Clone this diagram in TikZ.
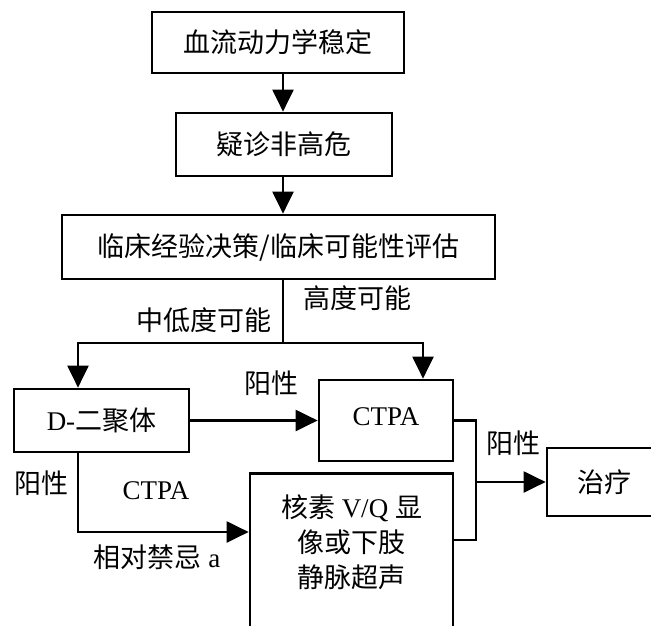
\documentclass[tikz,border=0pt]{standalone}
\usepackage{fontspec}
\setmainfont{Liberation Serif}
\newfontfamily\cjk{Noto Sans CJK SC}
\usetikzlibrary{arrows.meta}

\begin{document}
\begin{tikzpicture}[x=1pt,y=-1pt,
    every node/.style={font=\fontsize{27}{35}\selectfont},
    box/.style={draw,line width=2.7pt,inner sep=0pt},
    link/.style={line width=2.2pt},
    arr/.style={link,-{Triangle[width=21pt,length=22pt]}},
    tag/.style={inner sep=0pt}]
      \useasboundingbox (0,0) rectangle (651,626);
      \clip (0,0) rectangle (651,626);
      % main column
      \draw (278,42.5) node[box,minimum width=252,minimum height=61] (stable) {\cjk 血流动力学稳定};
      \draw (284,144.5) node[box,minimum width=216,minimum height=63] (suspect) {\cjk 疑诊非高危};
      \draw (278.5,247) node[box,minimum width=433,minimum height=64] (assess) {\cjk 临床经验决策/临床可能性评估};
      \coordinate (spine) at (283,0);
      \coordinate (fork) at (283,343);
      \coordinate (lowdrop) at (78,343);
      \coordinate (highdrop) at (423,343);
      % second row
      \draw (101.5,420.5) node[box,minimum width=175,minimum height=63] (ddimer) {D-{\cjk 二聚体}};
      \draw (386,420.5) node[box,minimum width=134,minimum height=81] (ctpa) {\raisebox{7pt}{CTPA}};
      \draw (351.5,472) node[box,anchor=north,minimum width=203,minimum height=300] (vq) {};
      \draw (351.5,542) node[tag,align=center] (vqtext) {{\cjk 核素} V/Q {\cjk 显}\\{\cjk 像或下肢}\\{\cjk 静脉超声}};
      \draw (604,482) node[box,minimum width=114,minimum height=68] (treat) {\cjk 治疗};
      \coordinate (bend) at (78,532);
      \coordinate (join) at (476,482);
      % labels
      \draw (357,298) node[tag] (high) {\cjk 高度可能};
      \draw (204,320) node[tag] (low) {\cjk 中低度可能};
      \draw (271,383) node[tag] (posa) {\cjk 阳性};
      \draw (41,483) node[tag] (posb) {\cjk 阳性};
      \draw (156,491) node[tag] (ctpalbl) {CTPA};
      \draw (157,557) node[tag] (contra) {{\cjk 相对禁忌} a};
      \draw (513,443) node[tag] (posc) {\cjk 阳性};
      % connectors
      \draw[arr] (stable.south -| spine) to (suspect.north -| spine);
      \draw[arr] (suspect.south -| spine) to (assess.north -| spine);
      \draw[link] (assess.south -| spine) to (fork);
      \draw[arr] (fork) -- (lowdrop) -- (lowdrop |- ddimer.north);
      \draw[arr] (fork) -- (highdrop) -- (highdrop |- ctpa.north);
      \draw[arr] (ddimer.east) to (ctpa.west);
      \draw[arr] (ddimer.south -| bend) |- (vq.west |- bend);
      \draw[link] (ctpa.east) -| (join) |- (vq.east |- 0,540);
      \draw[arr] (join) to (treat.west);
      \end{tikzpicture}
\end{document}
